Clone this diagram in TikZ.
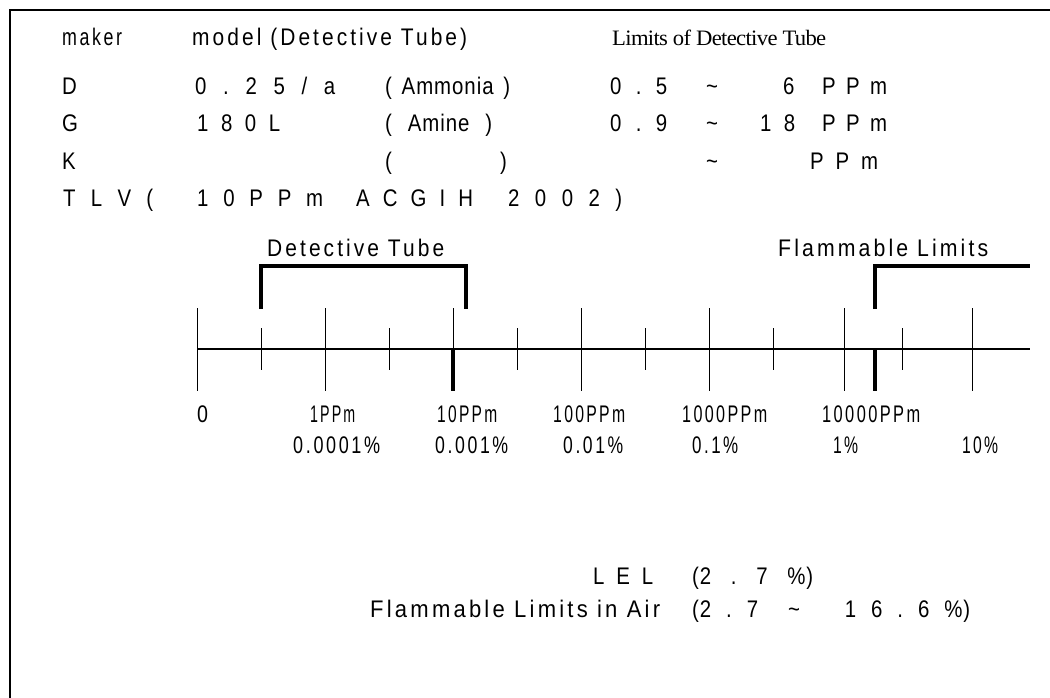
\documentclass[tikz,border=0pt]{standalone}
\usepackage{fontspec}
\usepackage{graphicx}
\newfontfamily\nar[FakeStretch=0.85,LetterSpace=4]{Liberation Sans}
\newfontfamily\narw[FakeStretch=0.82,LetterSpace=12]{Liberation Sans}
\newfontfamily\tms[LetterSpace=-3]{Liberation Serif}
\newsavebox\fwbox
\newcommand\fw[2]{\sbox\fwbox{#2}\pgfmathsetmacro\fwr{#1/\the\wd\fwbox}\scalebox{\fwr}[1]{\usebox\fwbox}}
\newcommand\spread[2]{\makebox[#1][s]{#2}}
\tikzset{
  txt/.style={inner sep=0pt, anchor=base west, font=\frenchspacing\nar\fontsize{24}{28}\selectfont},
  wtxt/.style={inner sep=0pt, anchor=base west, font=\frenchspacing\narw\fontsize{24}{28}\selectfont},
  serif/.style={inner sep=0pt, anchor=base west, font=\tms\fontsize{22}{26}\selectfont},
  frameline/.style={line width=2pt},
  axisline/.style={line width=2.4pt},
  tickline/.style={line width=1pt},
  heavy/.style={line width=3.5pt},
}
\begin{document}
\begin{tikzpicture}[x=1pt,y=-1pt]
\useasboundingbox (0,0) rectangle (1050,698);
% frame
\coordinate (fTR) at (1050,10);
\coordinate (fTL) at (10,10);
\coordinate (fBL) at (10,698);
\draw[frameline] (fTR) -- (fTL) -- (fBL);

% header rows
\node[wtxt] (maker) at (62,46) {\fw{60pt}{maker}};
\node[wtxt] (model) at (192,46) {\fw{275pt}{model (Detective Tube)}};
\node[serif] (limits) at (612,46) {\fw{214pt}{Limits of Detective Tube}};

\node[txt] (dD) at (62,95) {D};
\node[txt] (dModel) at (195,95) {\spread{140pt}{0 . 2 5 / a}};
\node[txt] (dGas) at (385,95) {\spread{125pt}{( Ammonia )}};
\node[txt] (dLo) at (610,95) {\spread{57pt}{0 . 5}};
\node[txt] (dT) at (706,95) {\textasciitilde};
\node[txt] (dHi) at (783,95) {6};
\node[txt] (dU) at (822,95) {\spread{65pt}{P P m}};

\node[txt] (gG) at (62,132) {G};
\node[txt] (gModel) at (197,132) {\spread{83pt}{1 8 0 L}};
\node[txt] (gGas) at (385,132) {\spread{107pt}{( Amine )}};
\node[txt] (gLo) at (610,132) {\spread{57pt}{0 . 9}};
\node[txt] (gT) at (706,132) {\textasciitilde};
\node[txt] (gHi) at (760,132) {\spread{35pt}{1 8}};
\node[txt] (gU) at (822,132) {\spread{65pt}{P P m}};

\node[txt] (kK) at (62,170) {K};
\node[txt] (kL) at (385,170) {(};
\node[txt] (kR) at (500,170) {)};
\node[txt] (kT) at (706,170) {\textasciitilde};
\node[txt] (kU) at (810,170) {\spread{68pt}{P P m}};

\node[txt] (tTLV) at (63,207) {\spread{90pt}{T L V (}};
\node[txt] (tVal) at (197,207) {\spread{126pt}{1 0 P P m}};
\node[txt] (tOrg) at (356,207) {\spread{117pt}{A C G I H}};
\node[txt] (tYr) at (508,207) {\spread{114pt}{2 0 0 2 )}};

% range labels
\node[wtxt] (lDT) at (267,256) {\fw{177pt}{Detective Tube}};
\node[wtxt] (lFL) at (778,256) {\fw{210pt}{Flammable Limits}};

% axis
\coordinate (axL) at (197,349);
\coordinate (axR) at (1030,349);
\draw[axisline] (axL) -- (axR);
\foreach \x in {197,325,453,581,709,844,972}
  \draw[tickline] (\x,308) -- (\x,391);
\foreach \x in {261,389,517,645,773,902}
  \draw[tickline] (\x,328) -- (\x,370);
\coordinate (tenA) at (453,349);
\coordinate (tenB) at (453,391);
\coordinate (lelA) at (875,349);
\coordinate (lelB) at (875,391);
\draw[heavy] (tenA) -- (tenB);
\draw[heavy] (lelA) -- (lelB);

% brackets
\coordinate (b1) at (261,309);
\coordinate (b2) at (261,266);
\coordinate (b3) at (466,266);
\coordinate (b4) at (466,309);
\draw[heavy] (b1) -- (b2) -- (b3) -- (b4);
\coordinate (c1) at (875,309);
\coordinate (c2) at (875,266);
\coordinate (c3) at (1030,266);
\draw[heavy] (c1) -- (c2) -- (c3);

% axis labels
\node[wtxt] (a0) at (197,422) {0};
\node[wtxt] (a1) at (310,422) {\fw{45pt}{1PPm}};
\node[wtxt] (a2) at (437,422) {\fw{60pt}{10PPm}};
\node[wtxt] (a3) at (553,422) {\fw{72pt}{100PPm}};
\node[wtxt] (a4) at (682,422) {\fw{85pt}{1000PPm}};
\node[wtxt] (a5) at (822,422) {\fw{98pt}{10000PPm}};

\node[wtxt] (p1) at (293,453) {\fw{87pt}{0.0001\%}};
\node[wtxt] (p2) at (435,453) {\fw{73pt}{0.001\%}};
\node[wtxt] (p3) at (563,453) {\fw{60pt}{0.01\%}};
\node[wtxt] (p4) at (692,453) {\fw{46pt}{0.1\%}};
\node[wtxt] (p5) at (833,453) {\fw{25pt}{1\%}};
\node[wtxt] (p6) at (962,453) {\fw{36pt}{10\%}};

% bottom notes
\node[txt] (lel) at (593,584) {\spread{60pt}{L E L}};
\node[txt] (lelv) at (692,584) {\spread{121pt}{(2 . 7 \%)}};
\node[wtxt] (fla) at (370,617) {\fw{290pt}{Flammable Limits in Air}};
\node[txt] (flav) at (692,617) {\spread{278pt}{(2 . 7 \ \textasciitilde\ \ \ 1 6 . 6 \%)}};
\end{tikzpicture}
\end{document}
